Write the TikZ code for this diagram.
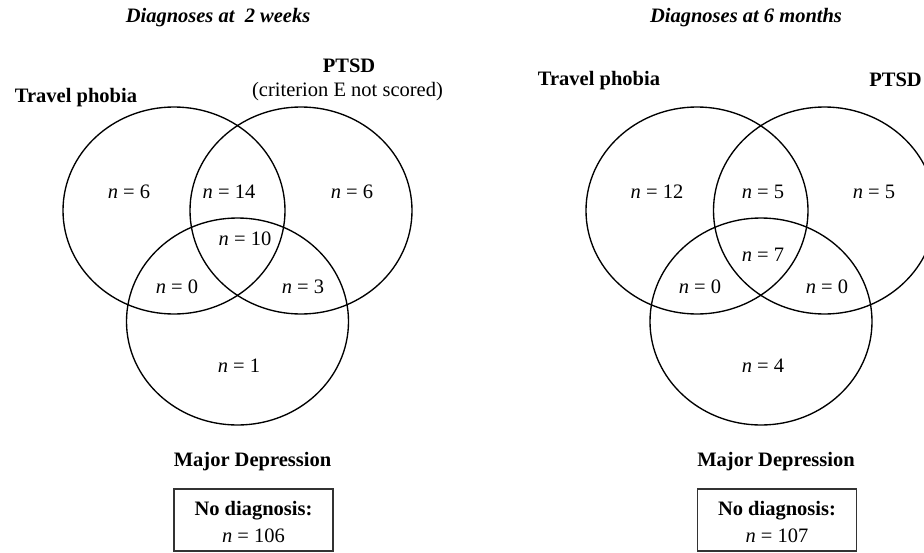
\documentclass[tikz,border=0pt]{standalone}
\usepackage{fontspec}
\setmainfont{Liberation Serif}
\usepackage{tikz}
\usetikzlibrary{positioning}
\tikzset{
  ring/.style={draw=black, line width=1.35pt},
  cnt/.style={font=\fontsize{20.5}{24}\selectfont, inner sep=0pt},
  setlbl/.style={font=\fontsize{20.5}{24}\selectfont\bfseries, inner sep=0pt},
  note/.style={font=\fontsize{20.5}{24}\selectfont, inner sep=0pt},
  ttl/.style={font=\fontsize{20.5}{24}\selectfont\bfseries\itshape, inner sep=0pt},
  nobox/.style={draw=black!80, line width=1.4pt, minimum width=159pt, minimum height=62pt,
    align=center, text height=46pt, font=\fontsize{20.5}{27}\selectfont}
}
\newcommand{\nn}[1]{\textit{n} = #1}

\begin{document}
\begin{tikzpicture}[x=1pt, y=-1pt]
  \useasboundingbox (0,0) rectangle (924,552);
  \clip (0,0) rectangle (924,552);

  % 2 weeks
  \coordinate (tpA) at (174,210.5);
  \coordinate (ptA) at (301,210.5);
  \coordinate (mdA) at (237.5,321.5);
  \draw[ring] (tpA) ellipse [x radius=111pt, y radius=103.5pt];
  \draw[ring] (ptA) ellipse [x radius=111pt, y radius=103.5pt];
  \draw[ring] (mdA) ellipse [x radius=111pt, y radius=103.5pt];

  \node[ttl] (titleA) at (218,17.5) {Diagnoses at\ \ 2 weeks};
  \node[setlbl] (tpnameA) at (76,97.5) {Travel phobia};
  \node[setlbl] (ptnameA) at (349,66) {PTSD};
  \node[note] (critA) at (347.5,92) {(criterion E not scored)};
  \node[setlbl] (mdnameA) at (252.5,461.5) {Major Depression};

  \node[cnt] (a1) at (129,192) {\nn{6}};
  \node[cnt] (a2) at (229,192) {\nn{14}};
  \node[cnt] (a3) at (352,192) {\nn{6}};
  \node[cnt] (a4) at (245,239) {\nn{10}};
  \node[cnt] (a5) at (177,287) {\nn{0}};
  \node[cnt] (a6) at (303,287) {\nn{3}};
  \node[cnt] (a7) at (239,366) {\nn{1}};

  \node[nobox] (noneA) at (253.5,520) {\textbf{No diagnosis:}\\\nn{106}};

  % 6 months
  \coordinate (tpB) at (697,210.5);
  \coordinate (ptB) at (824.5,210.5);
  \coordinate (mdB) at (761,321.5);
  \draw[ring] (tpB) ellipse [x radius=111pt, y radius=103.5pt];
  \draw[ring] (ptB) ellipse [x radius=111pt, y radius=103.5pt];
  \draw[ring] (mdB) ellipse [x radius=111pt, y radius=103.5pt];

  \node[ttl] (titleB) at (746,17.5) {Diagnoses at 6 months};
  \node[setlbl] (tpnameB) at (599,80.5) {Travel phobia};
  \node[setlbl] (ptnameB) at (895.5,80) {PTSD};
  \node[setlbl] (mdnameB) at (776,461.5) {Major Depression};

  \node[cnt] (b1) at (657,192) {\nn{12}};
  \node[cnt] (b2) at (763,192) {\nn{5}};
  \node[cnt] (b3) at (874,192) {\nn{5}};
  \node[cnt] (b4) at (763,255) {\nn{7}};
  \node[cnt] (b5) at (700,287) {\nn{0}};
  \node[cnt] (b6) at (827,287) {\nn{0}};
  \node[cnt] (b7) at (763,366) {\nn{4}};

  \node[nobox] (noneB) at (777,520) {\textbf{No diagnosis:}\\\nn{107}};
\end{tikzpicture}
\end{document}
